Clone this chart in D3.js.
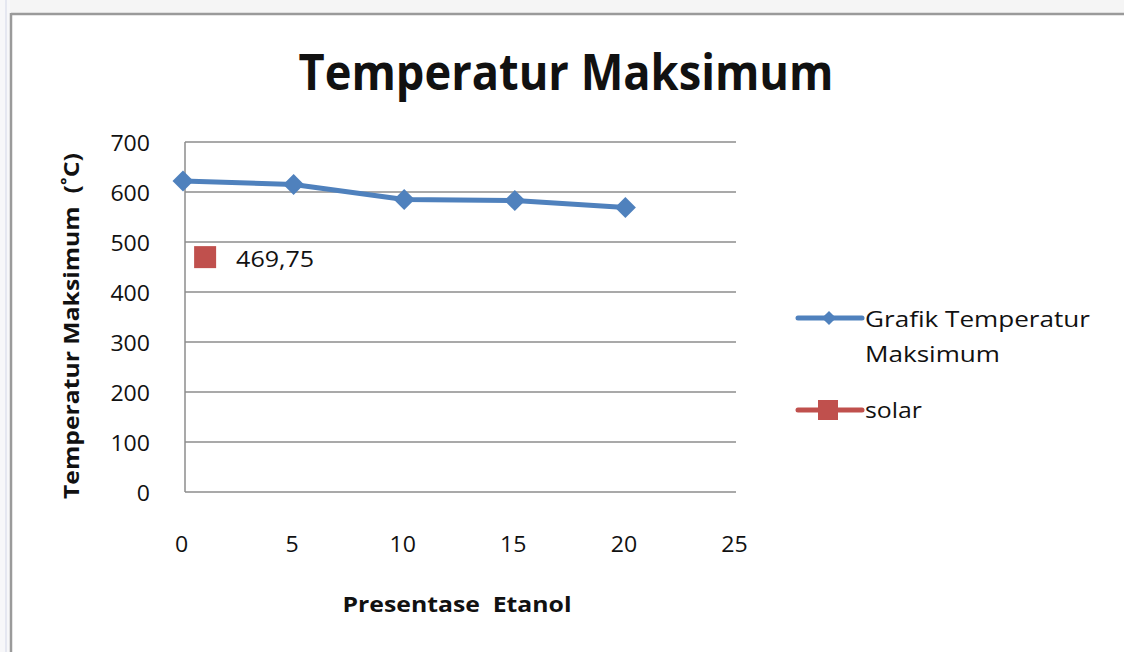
<!DOCTYPE html>
<html>
<head>
<meta charset="utf-8">
<script src="https://cdn.jsdelivr.net/npm/d3@7"></script>
<style>
  html, body { margin: 0; padding: 0; background: #fff; }
  svg { display: block; }
  text { font-family: "Open Sans", Lato, sans-serif; fill: #111; }
</style>
</head>
<body>
<svg id="chart" width="1124" height="652"></svg>
<script>
// Percentage of ethanol in the blend
const etanolPct = [0, 5, 10, 15, 20];
// Maximum temperature (°C) for each blend
const tempMaks = [622, 615, 585, 583, 569];
// Pure diesel (solar) reference point
const solarX = [1];
const solarY = [469.75];
const solarLabel = ["469,75"];

const yTicks = [0, 100, 200, 300, 400, 500, 600, 700];
const xTicks = [0, 5, 10, 15, 20, 25];

const svg = d3.select("#chart");
const W = 1124, H = 652;

// text helper: fixed rendered width keeps the wide spreadsheet lettering
function label(g, txt, opt) {
  const t = g.append("text")
    .attr("x", opt.x).attr("y", opt.y)
    .attr("font-size", opt.size)
    .attr("font-weight", opt.bold ? "bold" : "normal")
    .attr("text-anchor", opt.anchor || "start")
    .attr("xml:space", "preserve")
    .text(txt);
  if (opt.len) t.attr("textLength", opt.len).attr("lengthAdjust", "spacingAndGlyphs");
  if (opt.transform) t.attr("transform", opt.transform);
  return t;
}

// sheet frame
svg.append("rect").attr("x", 0).attr("y", 0).attr("width", W).attr("height", H).attr("fill", "#fff");
svg.append("rect").attr("x", 0).attr("y", 0).attr("width", W).attr("height", 13).attr("fill", "#f5f5f5");
svg.append("rect").attr("x", 0).attr("y", 0).attr("width", 10).attr("height", H).attr("fill", "#f7f7f9");
svg.append("line").attr("x1", 6).attr("x2", 6).attr("y1", 0).attr("y2", H).attr("stroke", "#d3d7e8").attr("stroke-width", 1);
svg.append("line").attr("x1", 11).attr("x2", W).attr("y1", 14).attr("y2", 14).attr("stroke", "#9a9a9a").attr("stroke-width", 2.5);
svg.append("line").attr("x1", 11).attr("x2", 11).attr("y1", 13).attr("y2", H).attr("stroke", "#9a9a9a").attr("stroke-width", 2.5);

const plotLeft = 185, plotRight = 736, plotTop = 142, plotBottom = 492;

const x = d3.scaleLinear().domain([0, 25]).range([183, 736]);
const y = d3.scaleLinear().domain([0, 700]).range([plotBottom, plotTop]);

// horizontal gridlines
svg.append("g").selectAll("line").data(yTicks.filter(d => d > 0)).join("line")
  .attr("x1", plotLeft).attr("x2", plotRight)
  .attr("y1", d => y(d)).attr("y2", d => y(d))
  .attr("stroke", "#8c8c8c").attr("stroke-width", 1.3);

// axis lines
svg.append("line").attr("x1", plotLeft).attr("x2", plotLeft).attr("y1", plotTop).attr("y2", plotBottom)
  .attr("stroke", "#8c8c8c").attr("stroke-width", 1.5);
svg.append("line").attr("x1", plotLeft).attr("x2", plotRight).attr("y1", plotBottom).attr("y2", plotBottom)
  .attr("stroke", "#8c8c8c").attr("stroke-width", 1.5);

const digitW = 13.2;

// y tick labels
const yAxis = d3.axisLeft(y).tickValues(yTicks).tickSize(0).tickPadding(0).tickFormat(d3.format("d"));
const gy = svg.append("g").attr("transform", "translate(150,0)").call(yAxis);
gy.select(".domain").remove();
gy.selectAll("text")
  .attr("font-size", 21).attr("font-family", "'Open Sans', sans-serif").attr("fill", "#111")
  .attr("dy", 8)
  .attr("textLength", d => String(d).length * digitW).attr("lengthAdjust", "spacingAndGlyphs");

// x tick labels
const xAxis = d3.axisBottom(x).tickValues(xTicks).tickSize(0).tickPadding(0).tickFormat(d3.format("d"));
const gx = svg.append("g").attr("transform", "translate(-2,552)").call(xAxis);
gx.select(".domain").remove();
gx.selectAll("text")
  .attr("font-size", 21).attr("font-family", "'Open Sans', sans-serif").attr("fill", "#111")
  .attr("dy", 0)
  .attr("textLength", d => String(d).length * digitW).attr("lengthAdjust", "spacingAndGlyphs");

// title
label(svg, "Temperatur Maksimum", { x: 566, y: 90, size: 50, bold: true, anchor: "middle", len: 535 });

// axis titles
label(svg, "Temperatur Maksimum  (˚C)", { x: 0, y: 0, size: 21, bold: true, anchor: "middle", len: 346,
  transform: "translate(79,326) rotate(-90)" });
label(svg, "Presentase  Etanol", { x: 457, y: 612, size: 21, bold: true, anchor: "middle", len: 229 });

const blue = "#4f81bd", red = "#c0504d";

// main series line
const line = d3.line().x((d, i) => x(etanolPct[i])).y(d => y(d));
svg.append("path").datum(tempMaks).attr("d", line)
  .attr("fill", "none").attr("stroke", blue).attr("stroke-width", 5).attr("stroke-linejoin", "round");

const diamond = d3.symbol().type(d3.symbolSquare).size(220);
svg.append("g").selectAll("path").data(tempMaks).join("path")
  .attr("d", diamond)
  .attr("transform", (d, i) => `translate(${x(etanolPct[i])},${y(d)}) rotate(45)`)
  .attr("fill", blue);

// solar point and its value label
svg.append("g").selectAll("rect").data(solarY).join("rect")
  .attr("x", (d, i) => x(solarX[i]) - 11).attr("y", d => y(d) - 11)
  .attr("width", 22).attr("height", 22).attr("fill", red);
const sl = svg.append("g");
solarY.forEach((d, i) => {
  label(sl, solarLabel[i], { x: x(solarX[i]) + 31, y: y(d) + 10, size: 21, len: 78 });
});

// legend
const lg = svg.append("g");
lg.append("line").attr("x1", 798).attr("x2", 862).attr("y1", 318).attr("y2", 318)
  .attr("stroke", blue).attr("stroke-width", 5).attr("stroke-linecap", "round");
lg.append("path").attr("d", d3.symbol().type(d3.symbolSquare).size(100))
  .attr("transform", "translate(829,318) rotate(45)").attr("fill", blue);
label(lg, "Grafik Temperatur", { x: 865, y: 327, size: 21, len: 225 });
label(lg, "Maksimum", { x: 865, y: 362, size: 21, len: 135 });

lg.append("line").attr("x1", 798).attr("x2", 862).attr("y1", 410).attr("y2", 410)
  .attr("stroke", red).attr("stroke-width", 5).attr("stroke-linecap", "round");
lg.append("rect").attr("x", 818).attr("y", 400).attr("width", 20).attr("height", 20).attr("fill", red);
label(lg, "solar", { x: 865, y: 418, size: 21, len: 57 });
</script>
</body>
</html>
